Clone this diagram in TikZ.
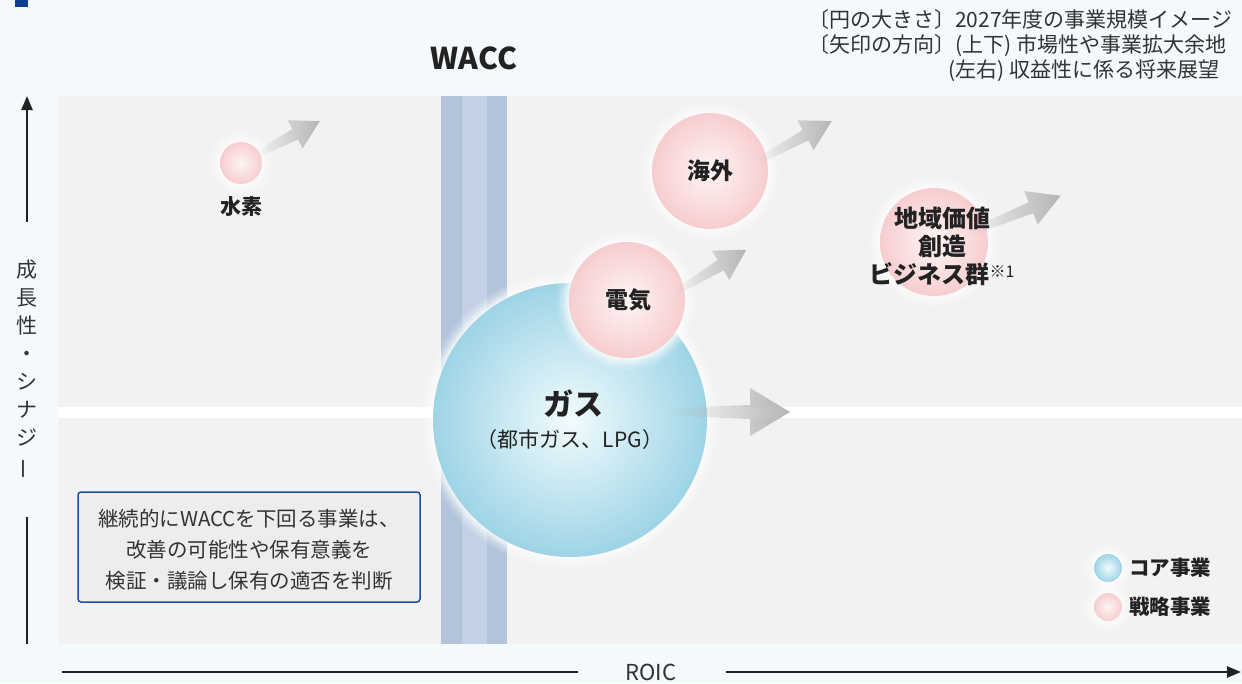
\documentclass[tikz,border=0pt]{standalone}
\usepackage{fontspec}
\setmainfont{Noto Sans CJK JP}
\usetikzlibrary{arrows.meta,fadings}
\definecolor{bgc}{HTML}{F4F9FC}
\definecolor{panel}{HTML}{F2F2F2}
\definecolor{band}{HTML}{B2C3DA}
\definecolor{bandin}{HTML}{C2D1E6}
\definecolor{navy}{HTML}{0B3D91}
\definecolor{txt}{HTML}{333333}
\definecolor{dark}{HTML}{222222}
\definecolor{gasout}{HTML}{9ED4E6}
\definecolor{gasin}{HTML}{F2FBFD}
\definecolor{pinkout}{HTML}{F7CDCF}
\definecolor{pinkin}{HTML}{FEF5F5}
\definecolor{arr}{HTML}{B5B5B5}
\definecolor{boxline}{HTML}{1F4E9C}
\definecolor{boxfill}{HTML}{ECEDEF}
\tikzfading[name=arrfade, left color=transparent!100, middle color=transparent!55, right color=transparent!0]
\newcommand\growarrow[6]{% start, angle, length, head length, head half width, shaft half width
  \begin{scope}[shift={(#1)}, rotate=#2]
    \fill[arr, path fading=arrfade] (0,-#6/2) -- ({#3-#4},-#6) -- ({#3-#4},-#5) -- (#3,0) -- ({#3-#4},#5) -- ({#3-#4},#6) -- (0,#6/2) -- cycle;
  \end{scope}}
\newcommand\softglow[2]{% centre, radius
  \foreach \d/\o in {2/0.35,4/0.3,6/0.25,9/0.2,12/0.12}{
    \fill[white, opacity=\o] (#1) circle[radius=#2+\d];
  }}
\tikzset{
  pinkball/.style={circle, shade, inner color=pinkin, outer color=pinkout, inner sep=0pt},
  blueball/.style={circle, shade, inner color=gasin, outer color=gasout, inner sep=0pt},
  lbl/.style={text=dark, font=\bfseries\fontsize{23}{28}\selectfont, inner sep=0pt},
  note/.style={text=txt, font=\fontsize{21}{25}\selectfont, inner sep=0pt},
  axis/.style={draw=dark, line width=2.4pt},
}
\begin{document}
\begin{tikzpicture}[x=1pt,y=-1pt]
\useasboundingbox (0,0) rectangle (1242,683);
% background
\fill[bgc] (0,0) rectangle (1242,683);
\fill[navy] (15,0) rectangle (28,7);
% panels
\fill[panel] (58,96) rectangle (1242,407);
\fill[panel] (58,418) rectangle (1242,644);
\fill[white] (58,407) rectangle (1242,418);
% WACC band
\fill[band] (441,96) rectangle (507,644);
\fill[bandin] (462,96) rectangle (487,644);
\node[text=dark, font=\bfseries\fontsize{30}{34}\selectfont, inner sep=0pt] (wacc) at (474,58) {WACC};
% legend text top right
\node[note, anchor=west] (t1) at (808,20) {〔円の大きさ〕2027年度の事業規模イメージ};
\node[note, anchor=west] (t2) at (808,46) {〔矢印の方向〕(上下) 市場性や事業拡大余地};
\node[note, anchor=west] (t3) at (948,71) {(左右) 収益性に係る将来展望};
% gas circle
\coordinate (cgas) at (570,420);
\softglow{cgas}{137}
\node[blueball, minimum size=274pt] (gas) at (cgas) {};
% pink circles
\coordinate (celec) at (627,300);
\coordinate (cover) at (710,171);
\coordinate (creg) at (934,242);
\coordinate (ch2) at (241,163);
\softglow{celec}{58}
\node[pinkball, minimum size=116pt] (elec) at (celec) {};
\softglow{cover}{58}
\node[pinkball, minimum size=116pt] (over) at (cover) {};
\softglow{creg}{54}
\node[pinkball, minimum size=108pt] (reg) at (creg) {};
\softglow{ch2}{21}
\node[pinkball, minimum size=42pt] (h2) at (ch2) {};
% arrows
\coordinate (ah2) at (258,154);
\coordinate (aover) at (758,161);
\coordinate (aelec) at (676,292);
\coordinate (areg) at (966,234);
\coordinate (agas) at (668,412);
\growarrow{ah2}{28}{70}{28}{16}{6}
\growarrow{aover}{28.5}{84}{30}{17}{6}
\growarrow{aelec}{31}{82}{30}{17}{6}
\growarrow{areg}{22}{102}{32}{18}{6}
\growarrow{agas}{0}{122}{40}{24}{7}
% labels
\node[lbl, font=\bfseries\fontsize{21}{25}\selectfont] (h2t) at (241,207) {水素};
\node[lbl] (overt) at (710,171) {海外};
\node[lbl] (elect) at (628,300) {電気};
\node[lbl, align=center, font=\bfseries\fontsize{24}{28}\selectfont] (regt) at (942,246) {地域価値\\創造\\ビジネス群{\mdseries\fontsize{16}{16}\selectfont\raisebox{6pt}{※1}}};
\node[lbl, font=\bfseries\fontsize{30}{34}\selectfont] (gast) at (573,404) {ガス};
\node[note, text=dark] (gassub) at (570,440) {（都市ガス、LPG）};
% note box
\node[draw=boxline, line width=1.5pt, fill=boxfill, rounded corners=3pt, minimum width=342pt, minimum height=110pt, inner sep=0pt] (box) at (249,547) {};
\node[note, align=center, font=\fontsize{20.5}{31}\selectfont] (boxt) at (249,550) {継続的にWACCを下回る事業は、\\改善の可能性や保有意義を\\検証・議論し保有の適否を判断};
% legend
\coordinate (clg1) at (1108,568);
\coordinate (clg2) at (1108,607);
\softglow{clg1}{14}
\node[blueball, minimum size=28pt] (lg1) at (clg1) {};
\softglow{clg2}{14}
\node[pinkball, minimum size=28pt] (lg2) at (clg2) {};
\node[lbl, anchor=west, font=\bfseries\fontsize{20.5}{25}\selectfont] (lg1t) at (1129,568) {コア事業};
\node[lbl, anchor=west, font=\bfseries\fontsize{20.5}{25}\selectfont] (lg2t) at (1129,607) {戦略事業};
% axes
\coordinate (vtop) at (27,96);
\coordinate (vmid1) at (27,222);
\coordinate (vmid2) at (27,517);
\coordinate (vbot) at (27,644);
\draw[axis, -{Triangle[length=14pt,width=11pt]}] (vmid1) -- (vtop);
\draw[axis] (vmid2) -- (vbot);
\node[note, align=center, font=\fontsize{21}{28}\selectfont] (ylab) at (27,370) {成\\長\\性\\・\\シ\\ナ\\ジ\\\rotatebox[origin=c]{90}{ー}};
\coordinate (hl) at (62,672);
\coordinate (hm1) at (578,672);
\coordinate (hm2) at (726,672);
\coordinate (hr) at (1241,672);
\draw[axis] (hl) -- (hm1);
\draw[axis, -{Triangle[length=14pt,width=11pt]}] (hm2) -- (hr);
\node[note, font=\fontsize{22}{25}\selectfont] (roic) at (651,672) {ROIC};
\end{tikzpicture}
\end{document}
